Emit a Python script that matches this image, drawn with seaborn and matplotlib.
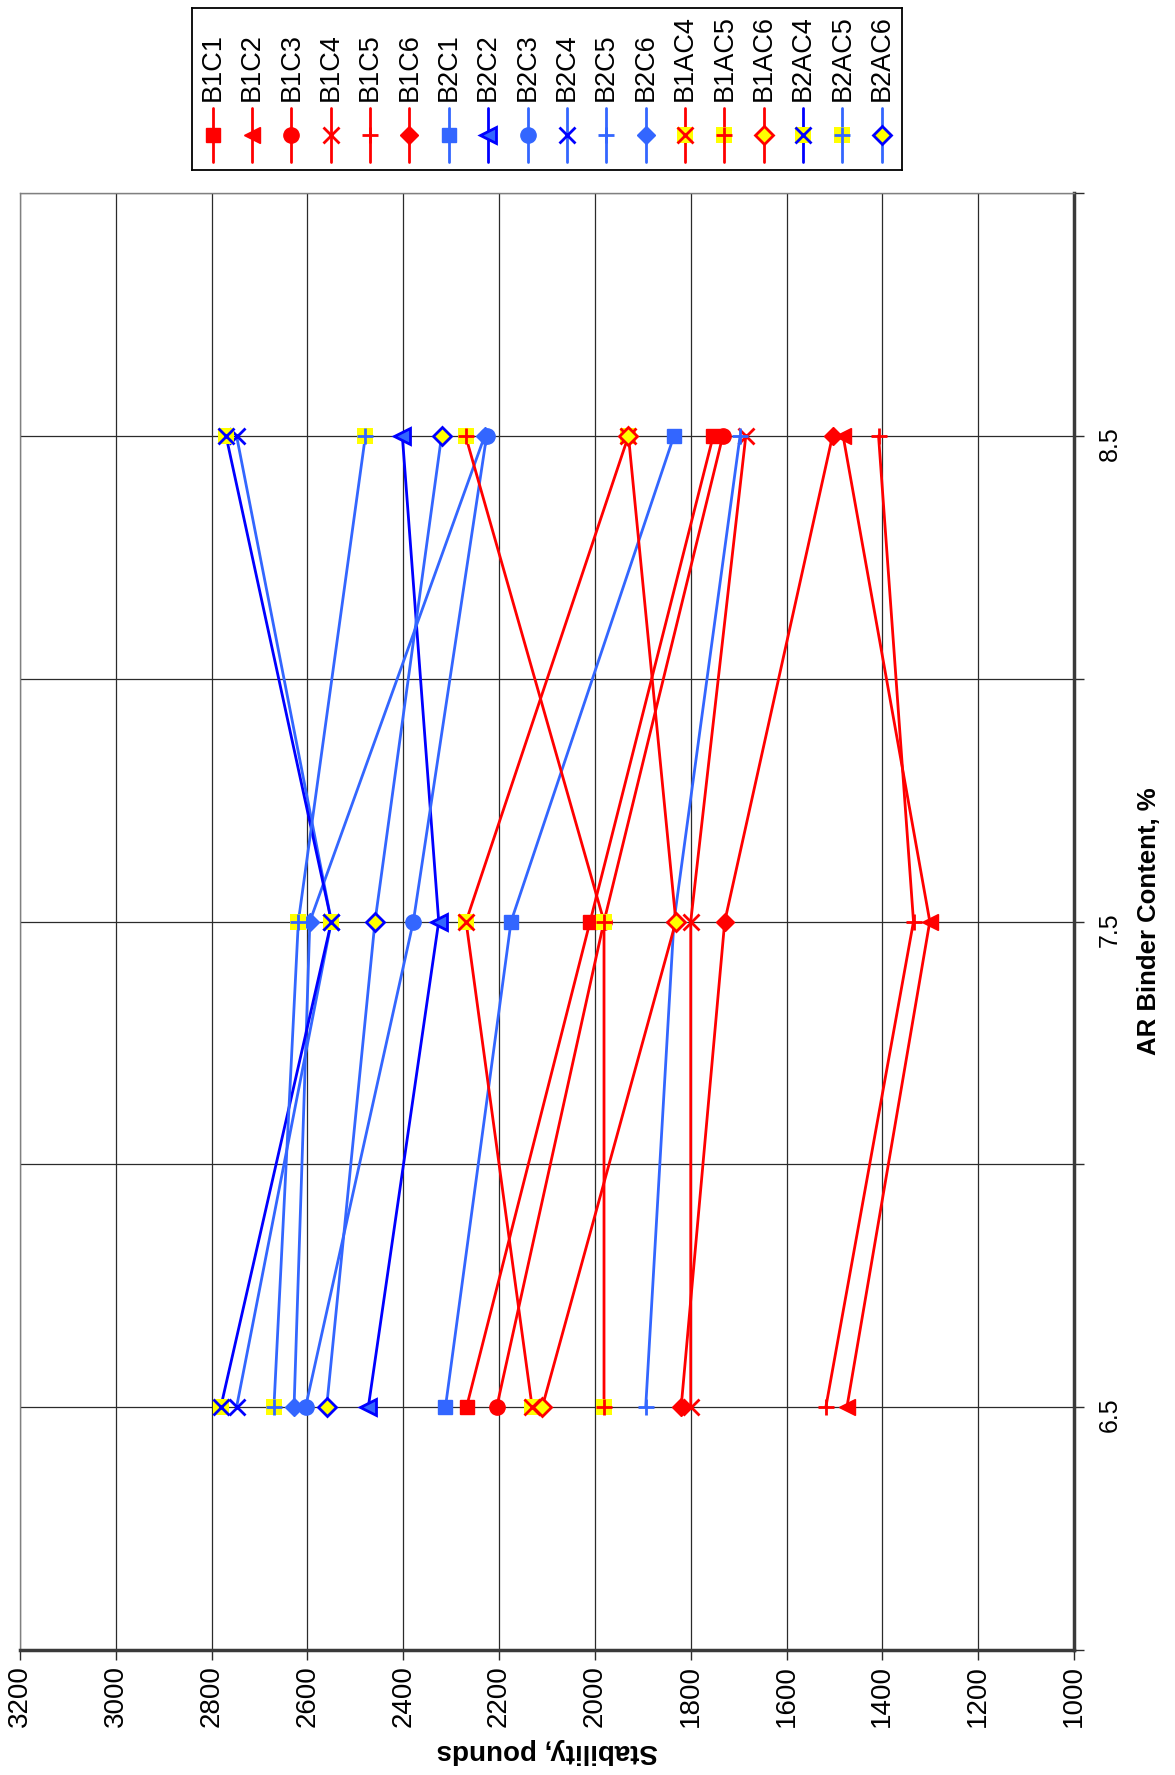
import matplotlib
matplotlib.use("Agg")
import matplotlib.pyplot as plt
import pandas as pd
import seaborn as sns

# AR binder content (%) and stability (pounds) for each mix
BINDER_CONTENT = [6.5, 7.5, 8.5]

B1C1 = [2268, 2010, 1753]
B1C2 = [1474, 1301, 1482]
B1C3 = [2205, 1981, 1733]
B1C4 = [1800, 1800, 1685]
B1C5 = [1518, 1335, 1408]
B1C6 = [1820, 1729, 1504]
B2C1 = [2312, 2175, 1835]
B2C2 = [2473, 2326, 2402]
B2C3 = [2604, 2379, 2226]
B2C4 = [2748, 2550, 2748]
B2C5 = [1894, 1835, 1697]
B2C6 = [2628, 2595, 2230]
B1AC4 = [2131, 2269, 1930]
B1AC5 = [1981, 1981, 2270]
B1AC6 = [2110, 1831, 1930]
B2AC4 = [2781, 2550, 2770]
B2AC5 = [2670, 2619, 2479]
B2AC6 = [2560, 2459, 2320]

SERIES = {
    "B1C1": B1C1, "B1C2": B1C2, "B1C3": B1C3, "B1C4": B1C4, "B1C5": B1C5, "B1C6": B1C6,
    "B2C1": B2C1, "B2C2": B2C2, "B2C3": B2C3, "B2C4": B2C4, "B2C5": B2C5, "B2C6": B2C6,
    "B1AC4": B1AC4, "B1AC5": B1AC5, "B1AC6": B1AC6,
    "B2AC4": B2AC4, "B2AC5": B2AC5, "B2AC6": B2AC6,
}

BINDER_TICKS = [6.0, 6.5, 7.0, 7.5, 8.0, 8.5, 9.0]
BINDER_TICK_LABELS = ["", "6.5", "", "7.5", "", "8.5", ""]
STABILITY_TICKS = list(range(1000, 3201, 200))

RED = "#FF0000"
BLUE = "#3366FF"
NAVY = "#0000FF"
YELLOW = "#FFFF00"
AXIS = "#2b2b2b"

# line colour, marker, marker face, marker edge, yellow box behind marker
# (chart is turned on its side, so the "up" triangle points left)
STYLES = {
    "B1C1": (RED, "s", RED, RED, False),
    "B1C2": (RED, "<", RED, RED, False),
    "B1C3": (RED, "o", RED, RED, False),
    "B1C4": (RED, "x", RED, RED, False),
    "B1C5": (RED, "+", RED, RED, False),
    "B1C6": (RED, "D", RED, RED, False),
    "B2C1": (BLUE, "s", BLUE, BLUE, False),
    "B2C2": (NAVY, "<", BLUE, NAVY, False),
    "B2C3": (BLUE, "o", BLUE, BLUE, False),
    "B2C4": (BLUE, "x", NAVY, NAVY, False),
    "B2C5": (BLUE, "+", BLUE, BLUE, False),
    "B2C6": (BLUE, "D", BLUE, BLUE, False),
    "B1AC4": (RED, "x", RED, RED, True),
    "B1AC5": (RED, "+", RED, RED, True),
    "B1AC6": (RED, "D", YELLOW, RED, False),
    "B2AC4": (NAVY, "x", NAVY, NAVY, True),
    "B2AC5": (BLUE, "+", BLUE, BLUE, True),
    "B2AC6": (BLUE, "D", YELLOW, NAVY, False),
}

MARKER_SIZE = {"s": 10.5, "<": 11, "o": 11, "x": 11, "+": 12, "D": 9}


def marker_kws(name):
    line, marker, face, edge, boxed = STYLES[name]
    mew = 2.0 if (marker in "x+" or face != edge) else 1.0
    return dict(marker=marker, markersize=MARKER_SIZE[marker], markerfacecolor=face,
                markeredgecolor=edge, markeredgewidth=mew)


def box_kws():
    return dict(marker="s", markersize=11, markerfacecolor=YELLOW,
                markeredgecolor=YELLOW, markeredgewidth=0)


def build_frame():
    rows = []
    for name, values in SERIES.items():
        for b, s in zip(BINDER_CONTENT, values):
            rows.append({"series": name, "binder": b, "stability": s})
    return pd.DataFrame(rows)


def main():
    sns.set_theme(style="white")
    plt.rcParams["font.family"] = ["Liberation Sans", "DejaVu Sans"]

    df = build_frame()

    fig = plt.figure(figsize=(11.75, 17.75), dpi=100)
    W, H = 1175, 1775
    ax = fig.add_axes([20 / W, 1 - 1650 / H, (1074 - 20) / W, (1650 - 193) / H])

    for name in SERIES:
        sub = df[df["series"] == name]
        line, marker, face, edge, boxed = STYLES[name]
        common = dict(data=sub, x="stability", y="binder", estimator=None, sort=False, ax=ax)
        sns.lineplot(**common, color=line, linewidth=2.0)
        if boxed:
            sns.lineplot(**common, color=YELLOW, linestyle="none", **box_kws())
        sns.lineplot(**common, color=line, linestyle="none", **marker_kws(name))

    ax.set_xlim(3200, 1000)
    ax.set_ylim(6.0, 9.0)
    ax.set_xticks(STABILITY_TICKS)
    ax.set_xticklabels([str(t) for t in STABILITY_TICKS])
    ax.yaxis.tick_right()
    ax.set_yticks(BINDER_TICKS)
    ax.set_yticklabels(BINDER_TICK_LABELS)

    ax.grid(True, color=AXIS, linewidth=0.9)
    ax.tick_params(axis="x", bottom=True, direction="out", length=7, width=1, color=AXIS,
                   labelsize=20, labelrotation=90, pad=4, labelcolor="black")
    ax.tick_params(axis="y", right=True, left=False, labelright=True, labelleft=False,
                   direction="out", length=7, width=1, color=AXIS, labelsize=18,
                   labelrotation=90, pad=10, labelcolor="black")

    ax.set_xlabel("Stability, pounds", fontsize=20, fontweight="bold", rotation=180,
                  labelpad=8, color="black")
    ax.yaxis.set_label_position("right")
    ax.set_ylabel("AR Binder Content, %", fontsize=18.5, fontweight="bold", rotation=90,
                  labelpad=11, color="black")

    for side in ["left", "top"]:
        ax.spines[side].set_color("#808080")
        ax.spines[side].set_linewidth(1.0)
    for side in ["right", "bottom"]:
        ax.spines[side].set_color("#3a3a3a")
        ax.spines[side].set_linewidth(2.5)

    # legend laid out sideways, one column per series
    lax = fig.add_axes([192 / W, 1 - 170 / H, (902 - 192) / W, (170 - 8) / H])
    lax.set_xlim(0, 710)
    lax.set_ylim(162, 0)
    lax.set_xticks([])
    lax.set_yticks([])
    for sp in lax.spines.values():
        sp.set_color("black")
        sp.set_linewidth(1.3)
        sp.set_visible(True)

    for i, name in enumerate(SERIES):
        line, marker, face, edge, boxed = STYLES[name]
        cx = 20.7 + 39.35 * i
        lax.plot([cx, cx], [100, 154], color=line, linewidth=2.0)
        if boxed:
            lax.plot([cx], [127], linestyle="none", **box_kws())
        lax.plot([cx], [127], linestyle="none", color=line, **marker_kws(name))
        lax.text(cx, 93, name, rotation=90, ha="center", va="bottom", fontsize=19.5,
                 color="black")

    fig.savefig("out.png", dpi=100, facecolor="white")


if __name__ == "__main__":
    main()
